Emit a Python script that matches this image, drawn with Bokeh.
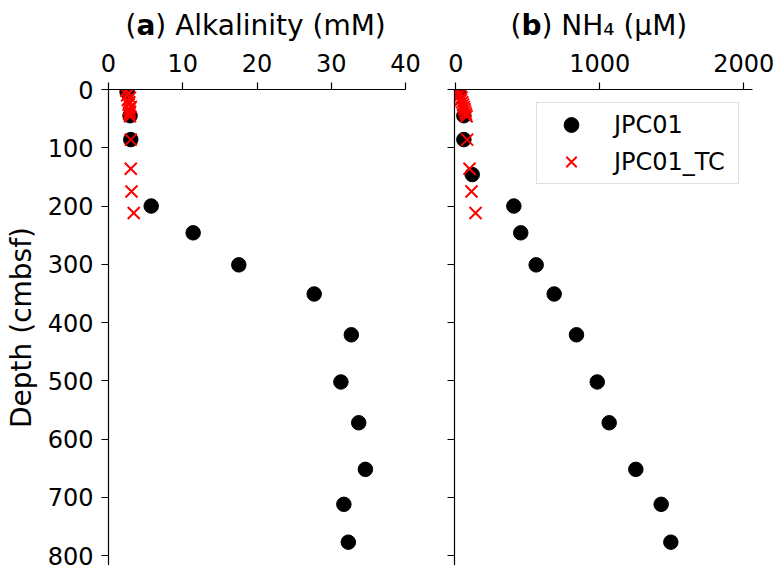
from bokeh.plotting import figure
from bokeh.layouts import row, column
from bokeh.models import Range1d, FixedTicker, Legend, LegendItem
from bokeh.core.properties import value
from bokeh.embed import file_html
from bokeh.resources import INLINE

nan = float("nan")

# JPC01 (piston core)
depth_jpc = [4, 45, 86, 146, 200, 246, 301, 351, 421, 502, 572, 652, 712, 777]
alk_jpc = [2.5, 2.9, 3.0, nan, 5.75, 11.4, 17.55, 27.7, 32.7, 31.3, 33.7, 34.6, 31.7, 32.3]
nh4_jpc = [21, 56, 56, 114, 403, 451, 558, 683, 838, 982, 1065, 1250, 1426, 1493]

# JPC01_TC (trigger core)
depth_tc = [2, 6, 10, 14, 18, 22, 26, 30, 34, 38, 42, 46, 86, 136, 175, 212]
alk_tc = [2.4, 2.7, 2.5, 2.9, 2.6, 2.8, 2.7, 3.0, 2.8, 2.9, 2.8, 2.9, 3.0, 3.0, 3.1, 3.4]
nh4_tc = [15, 25, 30, 40, 35, 45, 50, 55, 60, 65, 70, 75, 79, 95, 109, 137]

depth_ticks = [0, 100, 200, 300, 400, 500, 600, 700, 800]
alk_ticks = [0, 10, 20, 30, 40]
nh4_ticks = [0, 1000, 2000]

title_a = ["(", "a", ") Alkalinity (mM)"]
title_b = ["(", "b", ") NH\u2084 (\u03bcM)"]

FONT = "DejaVu Sans"
TICK_FS = "24px"
LABEL_FS = "28px"
W = 777
H = 565
TITLE_H = 50
TOP = 88 - TITLE_H


def style(p):
    p.xgrid.visible = False
    p.ygrid.visible = False
    p.outline_line_color = None
    for ax in (p.xaxis[0], p.yaxis[0]):
        ax.axis_line_color = "black"
        ax.axis_line_width = 1.2
        ax.major_tick_line_color = "black"
        ax.major_tick_line_width = 1.2
        ax.major_tick_out = 7
        ax.major_tick_in = 0
        ax.minor_tick_line_color = None
        ax.major_label_text_font = FONT
        ax.major_label_text_font_size = TICK_FS
        ax.major_label_text_color = "black"
        ax.axis_label_text_font = FONT
        ax.axis_label_text_font_size = LABEL_FS
        ax.axis_label_text_font_style = "normal"
        ax.axis_label_text_color = "black"
    p.xaxis[0].major_label_standoff = 11
    p.yaxis[0].major_label_standoff = 8


# Title strip (pixel coordinates, y measured from top)
pt = figure(width=W, height=TITLE_H, x_range=Range1d(0, W), y_range=Range1d(TITLE_H, 0),
            x_axis_type=None, y_axis_type=None, output_backend="svg",
            toolbar_location=None, min_border=0, min_border_left=0, min_border_right=0,
            min_border_top=0, min_border_bottom=0)
pt.outline_line_color = None
pt.xgrid.visible = False
pt.ygrid.visible = False


def add_title(x0, parts, bold_w):
    paren_w = 0.39 * 28
    xs = [x0, x0 + paren_w, x0 + paren_w + bold_w]
    styles = ["normal", "bold", "normal"]
    for x, t, s in zip(xs, parts, styles):
        pt.text(x=[x], y=[25], text=[t], text_font=value(FONT), text_font_size=LABEL_FS,
                text_font_style=s, text_color="black", text_baseline="middle",
                text_align="left")


add_title(125, title_a, 0.675 * 28)
add_title(510, title_b, 0.716 * 28)

y_top = 0
y_bot = 817

# Panel a
pa = figure(width=430, height=H - TITLE_H, x_axis_location="above", y_axis_location="left",
            x_range=Range1d(0, 40), y_range=Range1d(y_bot, y_top),
            output_backend="svg", toolbar_location=None,
            min_border_left=108, min_border_right=25, min_border_top=TOP,
            min_border_bottom=0)
style(pa)
pa.xaxis[0].ticker = FixedTicker(ticks=alk_ticks)
pa.yaxis[0].ticker = FixedTicker(ticks=depth_ticks)
pa.yaxis[0].axis_label = "Depth (cmbsf)"
pa.yaxis[0].axis_label_standoff = 7
pa.scatter(alk_jpc, depth_jpc, marker="circle", size=14.5, color="black")
pa.scatter(alk_tc, depth_tc, marker="x", size=17, line_color="red", line_width=2)

# Panel b
pb = figure(width=347, height=H - TITLE_H, x_axis_location="above", y_axis_location="left",
            x_range=Range1d(-9, 2060), y_range=Range1d(y_bot, y_top),
            output_backend="svg", toolbar_location=None,
            min_border_left=24, min_border_right=25, min_border_top=TOP,
            min_border_bottom=0)
style(pb)
pb.xaxis[0].ticker = FixedTicker(ticks=nh4_ticks)
pb.yaxis[0].ticker = FixedTicker(ticks=depth_ticks)
pb.yaxis[0].major_label_overrides = {t: "" for t in depth_ticks}
r1 = pb.scatter(nh4_jpc, depth_jpc, marker="circle", size=14.5, color="black")
r2 = pb.scatter(nh4_tc, depth_tc, marker="x", size=17, line_color="red", line_width=2)

legend = Legend(items=[LegendItem(label="JPC01", renderers=[r1]),
                       LegendItem(label="JPC01_TC", renderers=[r2])],
                location="top_right", margin=13, padding=3, spacing=0,
                glyph_width=62, glyph_height=37, label_height=37, label_width=121,
                label_standoff=12, label_text_font=FONT, label_text_font_size=TICK_FS,
                label_text_color="black",
                border_line_color="#c0c0c0", border_line_width=1.5,
                background_fill_color="white", background_fill_alpha=1.0)
pb.add_layout(legend)

layout = column(pt, row(pa, pb))
open("out.html", "w").write(file_html(layout, INLINE))
